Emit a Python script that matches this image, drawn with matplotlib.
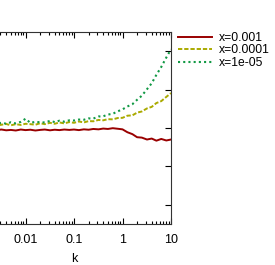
import numpy as np
import matplotlib.pyplot as plt

plt.rcParams['font.family'] = ['Liberation Sans', 'DejaVu Sans']
plt.rcParams['font.size'] = 9

# k grid
k = [0.001, 0.0013, 0.0016, 0.002, 0.0025, 0.0032, 0.004, 0.005, 0.0063, 0.008,
     0.01, 0.0126, 0.016, 0.02, 0.025, 0.032, 0.04, 0.05, 0.063, 0.08,
     0.1, 0.126, 0.16, 0.2, 0.25, 0.32, 0.4, 0.5, 0.63, 0.8,
     1.0, 1.26, 1.6, 2.0, 2.5, 3.2, 4.0, 5.0, 6.3, 8.0, 10.0]

red = [0.99, 0.993, 0.987, 0.991, 0.989, 0.992, 0.988, 0.99, 0.987, 0.992,
       0.989, 0.991, 0.987, 0.99, 0.992, 0.988, 0.991, 0.989, 0.992, 0.99,
       0.992, 0.989, 0.993, 0.991, 0.995, 0.993, 0.997, 0.995, 0.999, 0.996,
       0.993, 0.978, 0.968, 0.952, 0.95, 0.94, 0.945, 0.934, 0.943, 0.935, 0.94]

yellow = [1.012, 1.016, 1.008, 1.019, 1.013, 1.017, 1.021, 1.014, 1.02, 1.016,
          1.022, 1.02, 1.017, 1.025, 1.02, 1.027, 1.022, 1.029, 1.024, 1.031,
          1.027, 1.034, 1.029, 1.036, 1.035, 1.042, 1.04, 1.046, 1.045, 1.052,
          1.053, 1.064, 1.066, 1.08, 1.086, 1.102, 1.11, 1.13, 1.14, 1.162, 1.182]

green = [1.018, 1.024, 1.019, 1.026, 1.02, 1.028, 1.022, 1.03, 1.024, 1.032,
         1.048, 1.027, 1.032, 1.03, 1.029, 1.037, 1.031, 1.038, 1.033, 1.04,
         1.039, 1.044, 1.043, 1.05, 1.049, 1.06, 1.061, 1.07, 1.074, 1.087,
         1.097, 1.112, 1.124, 1.147, 1.168, 1.202, 1.233, 1.277, 1.318, 1.367, 1.41]

labels = ["x=0.001", "x=0.0001", "x=1e-05"]

fig = plt.figure(figsize=(2.75, 2.65), dpi=100)
# axes runs off the left edge like the reference crop
ax = fig.add_axes([-23/275, 1-224/265, 194/275, 192/265])

ax.plot(k, red, color="#990000", lw=1.4, label=labels[0])
ax.plot(k, yellow, color="#aaaa00", lw=1.4, ls=(0, (2.2, 1.0)), label=labels[1])
ax.plot(k, green, color="#119944", lw=1.5, ls=(0, (1, 1.5)), label=labels[2])

ax.set_xscale("log")
ax.set_xlim(0.001, 10)
ax.set_ylim(0.5, 1.5)
ax.set_yticks([0.6, 0.8, 1.0, 1.2, 1.4])
ax.set_yticklabels([])
ax.set_xticks([0.01, 0.1, 1, 10])
ax.set_xticklabels(["0.01", "0.1", "1", "10"])
ax.tick_params(which="both", direction="in", top=True, right=True, width=0.8)
ax.tick_params(which="major", length=4, pad=7)
ax.tick_params(which="minor", length=2)
ax.tick_params(axis="y", which="minor", left=False, right=False)
ax.set_xlabel("k", labelpad=5)
for s in ax.spines.values():
    s.set_linewidth(0.8)
    s.set_color("#333333")

fig.legend(loc="upper left", bbox_to_anchor=(173/275, 1-27/265), frameon=False,
           handlelength=2.8, labelspacing=0.05, handletextpad=0.6,
           borderaxespad=0, fontsize=8.7)

fig.savefig("out.png", dpi=100)
